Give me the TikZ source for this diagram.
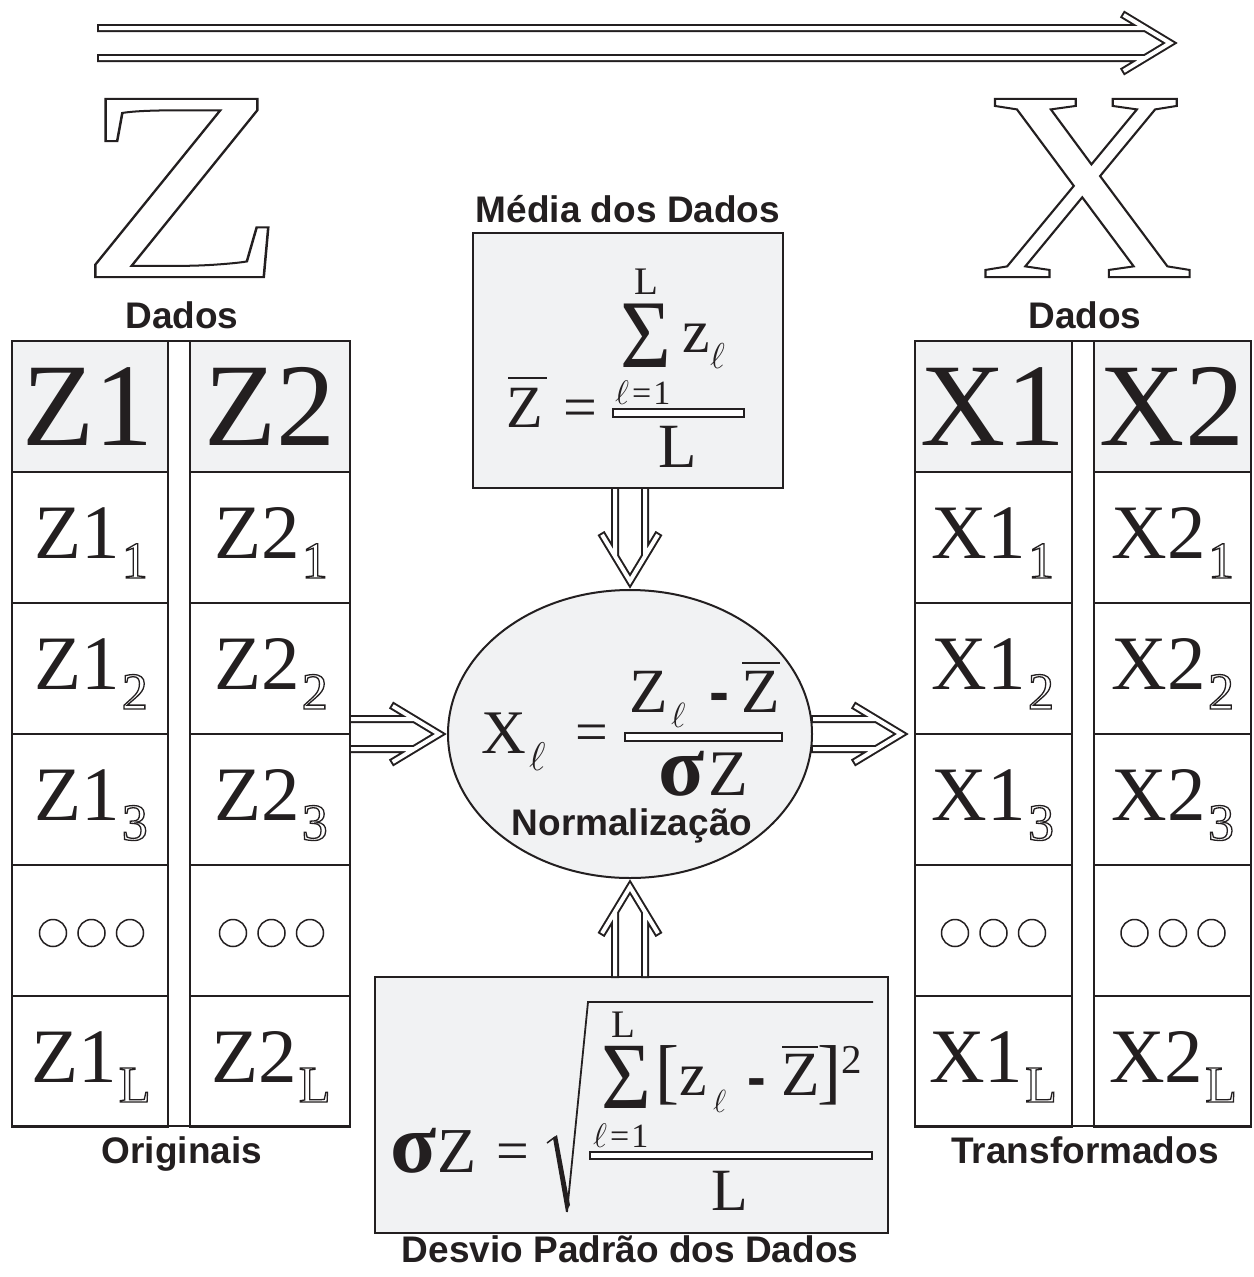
\RequirePackage{fix-cm}
\documentclass[tikz,border=0pt]{standalone}
\usepackage{fontspec}
\setmainfont{Liberation Serif}
\newfontfamily\labfont{Liberation Sans}
\usetikzlibrary{shapes.geometric}
\definecolor{boxgray}{HTML}{F1F2F3}
\definecolor{ink}{HTML}{231F20}
\newcommand{\fsz}[1]{\fontsize{#1}{#1}\selectfont}
\newcommand{\outl}[2][1.2]{\special{pdf:literal direct #1 w 1 Tr}#2\special{pdf:literal direct 0 Tr}}
\newcommand{\cellsub}[2]{\fsz{77}#1\kern2pt\raisebox{-20pt}{\fsz{52}\outl[1.3]{#2}}}
\newcommand{\ellx}[1]{\fsz{#1}$\ell$}
\tikzset{
  tcell/.style={draw=ink, line width=2pt, minimum height=131pt, inner sep=0pt},
  hcell/.style={tcell, fill=boxgray},
  fp/.style={inner sep=0pt, anchor=base west, text=ink, text depth=0pt},
  lbl/.style={inner sep=0pt, anchor=base, text=ink, text depth=0pt, font={\labfont\bfseries\fsz{37}}},
  fbar/.style={draw=ink, fill=white, line width=1.8pt, inner sep=0pt},
  obar/.style={draw=ink, line width=2.5pt},
  gbox/.style={draw=ink, fill=boxgray, line width=2pt, inner sep=0pt},
  dot/.style={circle, draw=ink, line width=1.5pt, minimum size=27pt, inner sep=0pt},
  pics/dblarrow/.style={code={
    \draw[ink, line width=8pt, line join=miter]
      (-#1,15) -- (-33,15) (-#1,-15) -- (-33,-15) (-56,29) -- (-8,0) -- (-56,-29);
    \draw[white, line width=4pt, line join=miter]
      ({-#1+2},15) -- (-33,15) ({-#1+2},-15) -- (-33,-15) (-54.3,28) -- (-8,0) -- (-54.3,-28);
  }}
}
\begin{document}
\begin{tikzpicture}[x=1pt, y=-1pt]
\fill[white] (0,0) rectangle (1253,1277);
\useasboundingbox (0,0) rectangle (1253,1277);

% big letters
\node[fp, anchor=base] (bigZ) at (183,277) {\fsz{272}\scalebox{1.25}[1]{\outl[2]{Z}}};
\node[fp, anchor=base] (bigX) at (1087,277) {\fsz{272}\scalebox{1.1}[1]{\outl[2]{X}}};
\coordinate (arrS) at (97,43);
\coordinate (arrE) at (1178,43);
\pic at (arrE) {dblarrow=1081};

% labels
\node[lbl] (dadosL) at (182,328) {Dados};
\node[lbl] (dadosR) at (1085,328) {Dados};
\node[lbl] (orig) at (182,1163) {Originais};
\node[lbl] (trans) at (1085,1163) {Transformados};
\node[lbl] (lblMean) at (628,222) {Média dos Dados};
\node[lbl] (lblSd) at (630,1262) {Desvio Padrão dos Dados};

% tables
\node[draw=ink, line width=2pt, minimum width=338pt, minimum height=785pt, inner sep=0pt] (tblL) at (181,733.5) {};
\node[draw=ink, line width=2pt, minimum width=336pt, minimum height=785pt, inner sep=0pt] (tblR) at (1083,733.5) {};
\node[hcell, minimum width=156pt] (zh1) at (90,406.5) {};
\node[hcell, minimum width=160pt] (zh2) at (270,406.5) {};
\node[hcell, minimum width=157pt] (xh1) at (993.5,406.5) {};
\node[hcell, minimum width=157pt] (xh2) at (1172.5,406.5) {};
\foreach \r in {1,...,5}{
  \pgfmathsetmacro{\yy}{406.5+131*\r}
  \node[tcell, minimum width=156pt] (zc1-\r) at (90,\yy) {};
  \node[tcell, minimum width=160pt] (zc2-\r) at (270,\yy) {};
  \node[tcell, minimum width=157pt] (xc1-\r) at (993.5,\yy) {};
  \node[tcell, minimum width=157pt] (xc2-\r) at (1172.5,\yy) {};
}
% header texts
\node[fp, anchor=base] (tZ1) at (88,445) {\fsz{118}Z1};
\node[fp, anchor=base] (tZ2) at (270,445) {\fsz{118}Z2};
\node[fp, anchor=base] (tX1) at (993,445) {\fsz{118}X1};
\node[fp, anchor=base] (tX2) at (1172,445) {\fsz{118}X2};
% body texts
\foreach \r/\s in {0/1,1/2,2/3,4/L}{
  \pgfmathsetmacro{\yb}{558+131*\r}
  \node[fp, anchor=base] (tz1-\r) at (91,\yb) {\cellsub{Z1}{\s}};
  \node[fp, anchor=base] (tz2-\r) at (271,\yb) {\cellsub{Z2}{\s}};
  \node[fp, anchor=base] (tx1-\r) at (993,\yb) {\cellsub{X1}{\s}};
  \node[fp, anchor=base] (tx2-\r) at (1173,\yb) {\cellsub{X2}{\s}};
}
% dots rows
\foreach \cx/\nm in {91.5/a,271.5/b,993.5/c,1173/d}{
  \foreach \k in {-1,0,1}{
    \node[dot] (dot\nm\k) at ({\cx+38.5*\k},933) {};
  }
}

% mean box
\node[gbox, minimum width=310pt, minimum height=255pt] (mean) at (628,360.5) {};
\node[fp] (mZ) at (506,427) {\fsz{60}Z};
\draw[obar] (508,378) -- (547,378);
\node[fp] (mEq) at (563,427) {\fsz{60}=};
\node[fbar, minimum width=131pt, minimum height=8pt] (mBar) at (678.5,413) {};
\node[fp] (mL1) at (634,294) {\fsz{39}L};
\node[fp] (mSum) at (620,367) {\fsz{97}\scalebox{0.9}[1]{Σ}};
\node[fp] (mz) at (682,352) {\fsz{62}z};
\node[fp] (ml) at (710,368) {\ellx{36}};
\node[fp] (ml1) at (615,404) {\ellx{34}\kern3pt=\kern2pt1};
\node[fp] (mL2) at (658,467) {\fsz{63}L};

% ellipse
\node[ellipse, draw=ink, fill=boxgray, line width=2pt, minimum width=364pt, minimum height=288pt, inner sep=0pt] (ell) at (630,734) {};
\node[fp] (eX) at (481,753) {\fsz{62}X};
\node[fp] (el) at (529,770) {\ellx{40}};
\node[fp] (eEq) at (575,751) {\fsz{58}=};
\node[fbar, minimum width=157pt, minimum height=8pt] (eBar) at (703.5,737) {};
\node[fp] (eZ) at (629,712) {\fsz{63}Z};
\node[fp] (el2) at (671,727) {\ellx{35}};
\node[fp] (eMinus) at (709,712) {\labfont\bfseries\fsz{60}-};
\node[fp] (eZb) at (741,712) {\fsz{63}Z};
\draw[obar] (742,663) -- (780,663);
\node[fp] (eSig) at (658,795) {\fsz{85}\bfseries σ};
\node[fp] (eZ2) at (708,795) {\fsz{65}Z};
\node[lbl] (norm) at (632,835) {Normalização};

% sigma box
\node[gbox, minimum width=513pt, minimum height=256pt] (sd) at (631.5,1105) {};
\node[fp] (sSig) at (390,1172) {\fsz{85}\bfseries σ};
\node[fp] (sZ) at (437,1172) {\fsz{64}Z};
\node[fp] (sEq) at (496,1170) {\fsz{58}=};
\draw[ink, line width=1.5pt] (547,1143) -- (555,1137);
\fill[ink] (553,1138) -- (557,1135) -- (570,1205) -- (566,1212) -- cycle;
\draw[ink, line width=1.8pt, line join=miter] (567,1212) -- (588,1002) -- (873,1002);
\node[fp] (sL1) at (611,1037) {\fsz{39}L};
\node[fp] (sSum) at (601,1108) {\fsz{95}\scalebox{0.9}[1]{Σ}};
\node[fp] (sBr1) at (655,1095) {\fsz{72}[};
\node[fp] (sz) at (679,1095) {\fsz{62}z};
\node[fp] (sl) at (713,1112) {\ellx{32}};
\node[fp] (sMinus) at (747,1096) {\labfont\bfseries\fsz{56}-};
\node[fp] (sZb) at (781,1095) {\fsz{63}Z};
\draw[obar] (782,1047) -- (818,1047);
\node[fp] (sBr2) at (817,1095) {\fsz{72}]};
\node[fp] (s2) at (841,1073) {\fsz{41}2};
\node[fp] (sl1) at (593,1147) {\ellx{34}\kern3pt=\kern2pt1};
\node[fbar, minimum width=282pt, minimum height=7pt] (sBar) at (731,1155.5) {};
\node[fp] (sL2) at (711,1210) {\fsz{60}L};

% connectors
\pic at (ell.west) {dblarrow=98};
\pic at ([xshift=-5pt]tblR.west |- ell.east) {dblarrow=98};
\pic[rotate=-90] at (ell.north) {dblarrow=102};
\pic[rotate=90] at (ell.south) {dblarrow=99};
\end{tikzpicture}
\end{document}
